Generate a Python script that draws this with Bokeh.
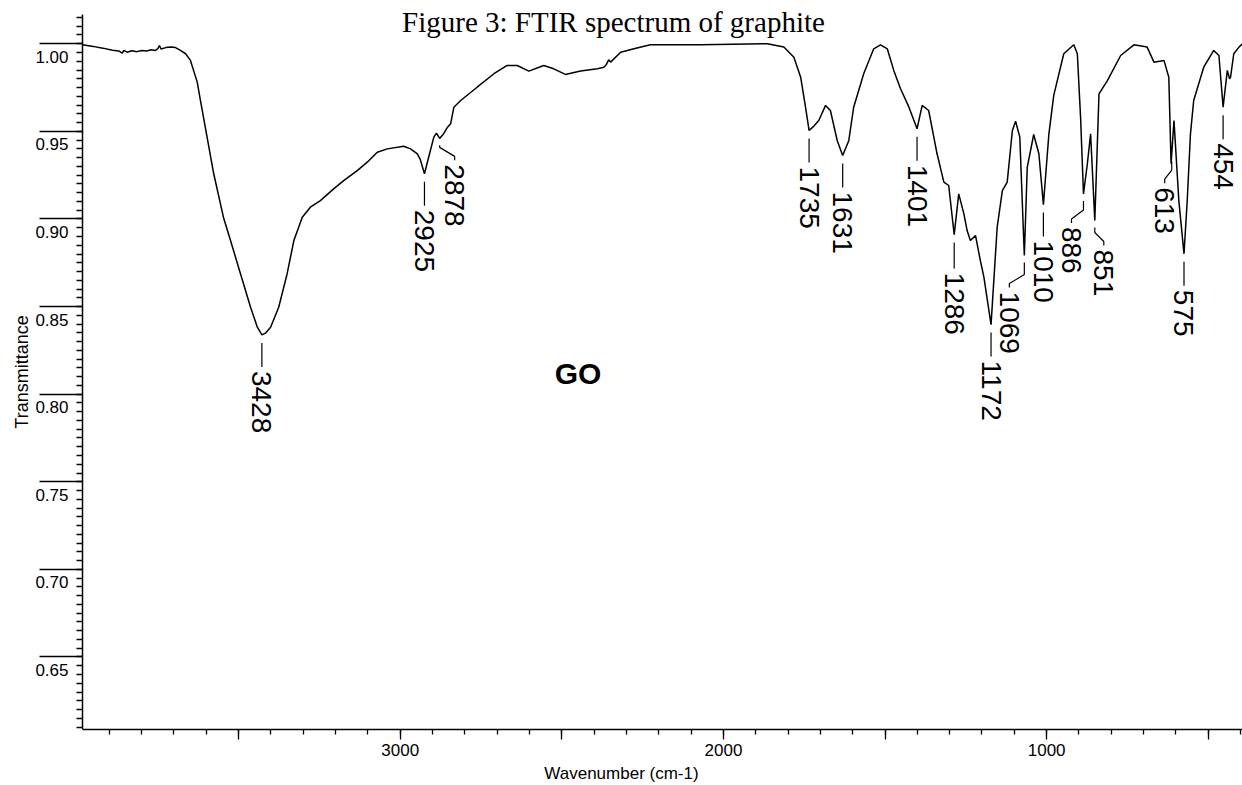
import numpy as np
from bokeh.plotting import figure
from bokeh.models import Range1d, FixedTicker, Label
from bokeh.embed import file_html
from bokeh.resources import INLINE
from bokeh.core.properties import value

# ---------------- data ----------------
wavenumber = [3983, 3950, 3920, 3890, 3870, 3860, 3855, 3845, 3830, 3815, 3800, 3785, 3770, 3758,
              3750, 3745, 3740, 3725, 3711, 3695, 3680, 3664, 3649, 3628, 3618, 3577, 3547, 3525,
              3494, 3463, 3442, 3428, 3417, 3401, 3376, 3350, 3329, 3303, 3278, 3247, 3206, 3175,
              3133, 3102, 3071, 3040, 2989, 2968, 2947, 2938, 2925, 2912, 2896, 2888, 2878, 2868,
              2855, 2844, 2834, 2813, 2762, 2710, 2669, 2638, 2602, 2556, 2525, 2489, 2442, 2390,
              2370, 2362, 2355, 2349, 2318, 2277, 2226, 2071, 1864, 1813, 1782, 1761, 1746, 1735,
              1720, 1705, 1684, 1669, 1648, 1631, 1612, 1597, 1566, 1535, 1514, 1493, 1473, 1452,
              1426, 1401, 1385, 1365, 1339, 1318, 1303, 1286, 1272, 1256, 1246, 1236, 1220, 1205,
              1194, 1172, 1153, 1137, 1122, 1106, 1096, 1083, 1069, 1060, 1040, 1024, 1010, 993,
              978, 947, 916, 905, 895, 886, 874, 864, 851, 838, 812, 771, 730, 689, 668, 637, 622,
              615, 606, 591, 575, 565, 555, 545, 514, 483, 467, 454, 441, 434, 431, 421, 405, 394]
transmittance = [0.9994, 0.9985, 0.9975, 0.9963, 0.9958, 0.9946, 0.9962, 0.9952, 0.9960, 0.9955,
                 0.9962, 0.9959, 0.9966, 0.9961, 0.9972, 0.9990, 0.9970, 0.9978, 0.9981, 0.9978,
                 0.9962, 0.9943, 0.9905, 0.9781, 0.9676, 0.9258, 0.9010, 0.8877, 0.8686, 0.8496,
                 0.8382, 0.8338, 0.8348, 0.8382, 0.8496, 0.8686, 0.8877, 0.9010, 0.9067, 0.9105,
                 0.9172, 0.9219, 0.9276, 0.9324, 0.9381, 0.9400, 0.9415, 0.9400, 0.9372, 0.9340,
                 0.9258, 0.9352, 0.9467, 0.9490, 0.9460, 0.9480, 0.9520, 0.9543, 0.9638, 0.9676,
                 0.9752, 0.9829, 0.9876, 0.9876, 0.9844, 0.9876, 0.9857, 0.9825, 0.9844, 0.9857,
                 0.9866, 0.9882, 0.9909, 0.9895, 0.9952, 0.9971, 0.9994, 0.9994, 1.0000, 0.9981,
                 0.9923, 0.9809, 0.9638, 0.9505, 0.9530, 0.9562, 0.9648, 0.9619, 0.9448, 0.9362,
                 0.9448, 0.9638, 0.9829, 0.9971, 0.9994, 0.9971, 0.9848, 0.9743, 0.9638, 0.9515,
                 0.9648, 0.9619, 0.9372, 0.9210, 0.9191, 0.8911, 0.9143, 0.9029, 0.8934, 0.8877,
                 0.8905, 0.8762, 0.8667, 0.8397, 0.8953, 0.9162, 0.9210, 0.9505, 0.9558, 0.9467,
                 0.8791, 0.9295, 0.9482, 0.9372, 0.9082, 0.9486, 0.9705, 0.9943, 0.9994, 0.9943,
                 0.9581, 0.9143, 0.9315, 0.9486, 0.8991, 0.9714, 0.9790, 0.9933, 0.9994, 0.9981,
                 0.9895, 0.9905, 0.9809, 0.9315, 0.9562, 0.9105, 0.8801, 0.9105, 0.9486, 0.9676,
                 0.9866, 0.9962, 0.9933, 0.9638, 0.9848, 0.9800, 0.9809, 0.9943, 0.9981, 1.0000]

peak_wavenumbers = [3428, 2925, 2878, 1735, 1631, 1401, 1286, 1172, 1069, 1010, 886, 851, 613, 575, 454]
peak_labels = ["3428", "2925", "2878", "1735", "1631", "1401", "1286", "1172", "1069", "1010",
               "886", "851", "613", "575", "454"]

y_tick_values = [0.65, 0.70, 0.75, 0.80, 0.85, 0.90, 0.95, 1.00]
y_tick_labels = ["0.65", "0.70", "0.75", "0.80", "0.85", "0.90", "0.95", "1.00"]
x_tick_values = [3000, 2000, 1000]
x_tick_labels = ["3000", "2000", "1000"]
x_half_ticks = [3500, 2500, 1500, 500]

sample_name = "GO"
title_text = "Figure 3:  FTIR spectrum of graphite"

# ---------------- layout ----------------
X0, X1 = 3983, 394          # spectrum axis span (left -> right)
Y0, Y1 = 0.6086, 1.0167     # transmittance axis span
W, H = 1242, 785
AX_L, AX_T, MB = 82, 14, 56  # pixel position of y axis, top of y axis, bottom border
WN_PER_PX = (X0 - X1) / (W - AX_L)
T_PER_PX = (Y1 - Y0) / (H - MB - AX_T)
XL = X0 + AX_L * WN_PER_PX   # frame extends to the page's left edge
YT = Y1 + AX_T * T_PER_PX    # and to its top edge

label_dx = {2878: 15, 1069: -15, 886: -12, 851: 9, 613: -7}
label_gap = {2878: 26, 851: 29, 886: 33, 613: 33, 1286: 38}

FONT = "Liberation Sans"

p = figure(width=W, height=H, x_range=Range1d(XL, X1), y_range=Range1d(Y0, YT),
           output_backend="svg", toolbar_location=None,
           min_border_left=0, min_border_right=0, min_border_top=0, min_border_bottom=MB,
           x_axis_label="Wavenumber (cm-1)", y_axis_label="Transmittance")
p.outline_line_color = None
p.grid.visible = False
p.background_fill_color = "white"
p.border_fill_color = "white"

p.line(wavenumber, transmittance, line_color="black", line_width=1.5)

# x axis
xa = p.xaxis[0]
xa.bounds = (X1, X0)
xa.ticker = FixedTicker(ticks=sorted(x_tick_values + x_half_ticks),
                        minor_ticks=list(range(400, 4000, 100)))
ov = {v: s for v, s in zip(x_tick_values, x_tick_labels)}
ov.update({v: "" for v in x_half_ticks})
xa.major_label_overrides = ov
xa.major_tick_out = 10
xa.major_tick_in = 0
xa.minor_tick_out = 5
xa.minor_tick_in = 0
xa.axis_line_width = 1.5
xa.major_tick_line_width = 1.3
xa.minor_tick_line_width = 1.3
xa.major_label_text_font = FONT
xa.major_label_text_font_size = "17px"
xa.major_label_text_color = "black"
xa.major_label_standoff = 4
xa.axis_label_text_font = FONT
xa.axis_label_text_font_size = "17px"
xa.axis_label_text_font_style = "normal"
xa.axis_label_text_color = "black"
xa.axis_label_standoff = 5

# y axis, pinned at the spectrum's left end
ya = p.yaxis[0]
ya.fixed_location = X0
ya.bounds = (Y0, Y1)
ya.ticker = FixedTicker(ticks=y_tick_values,
                        minor_ticks=[round(0.61 + 0.005 * i, 3) for i in range(82)])
ya.major_label_overrides = {v: "" for v in y_tick_values}
ya.major_tick_out = 43
ya.major_tick_in = 0
ya.minor_tick_out = 6
ya.minor_tick_in = 0
ya.axis_line_width = 1.5
ya.major_tick_line_width = 1.5
ya.minor_tick_line_width = 1.3
ya.major_label_standoff = 0
ya.axis_label_text_font = FONT
ya.axis_label_text_font_size = "18px"
ya.axis_label_text_font_style = "normal"
ya.axis_label_text_color = "black"
ya.axis_label_standoff = 8

# y tick labels sit just below each long tick line
for v, s in zip(y_tick_values, y_tick_labels):
    p.add_layout(Label(x=X0 + 14 * WN_PER_PX, y=v - 13 * T_PER_PX, text=s,
                       text_align="right", text_baseline="middle",
                       text_font=FONT, text_font_size="17px", text_color="black"))

# peak annotations
wn_inc = np.array(wavenumber[::-1], dtype=float)
t_inc = np.array(transmittance[::-1], dtype=float)
peak_t = np.interp(peak_wavenumbers, wn_inc, t_inc)

tx, ty, lxs, lys = [], [], [], []
for pk, pt in zip(peak_wavenumbers, peak_t):
    dx = label_dx.get(pk, 0)
    gap = label_gap.get(pk, 36)
    if dx == 0:
        px_pts = [(0, 8), (0, gap - 4)]
    else:
        px_pts = [(0, 7), (0, gap - 17), (dx, gap - 8), (dx, gap - 4)]
    lxs.append([pk - a * WN_PER_PX for a, b in px_pts])
    lys.append([pt - b * T_PER_PX for a, b in px_pts])
    tx.append(pk - dx * WN_PER_PX)
    ty.append(pt - gap * T_PER_PX)

p.multi_line(lxs, lys, line_color="black", line_width=1.2)
p.text(x=tx, y=ty, text=peak_labels, angle=-np.pi / 2, text_align="left",
       text_baseline="middle", text_font=value(FONT), text_font_size="28px",
       text_color="black")

p.add_layout(Label(x=2450, y=0.812, text=sample_name, text_align="center",
                   text_baseline="middle", text_font=FONT, text_font_size="30px",
                   text_font_style="bold", text_color="black"))

# title, baseline ~21 px from the top of the page
p.add_layout(Label(x=2329, y=Y1 - (21 - AX_T) * T_PER_PX, text=title_text, text_align="center",
                   text_baseline="alphabetic", text_font="Liberation Serif",
                   text_font_size="29px", text_color="black"))

open("out.html", "w").write(file_html(p, INLINE))
